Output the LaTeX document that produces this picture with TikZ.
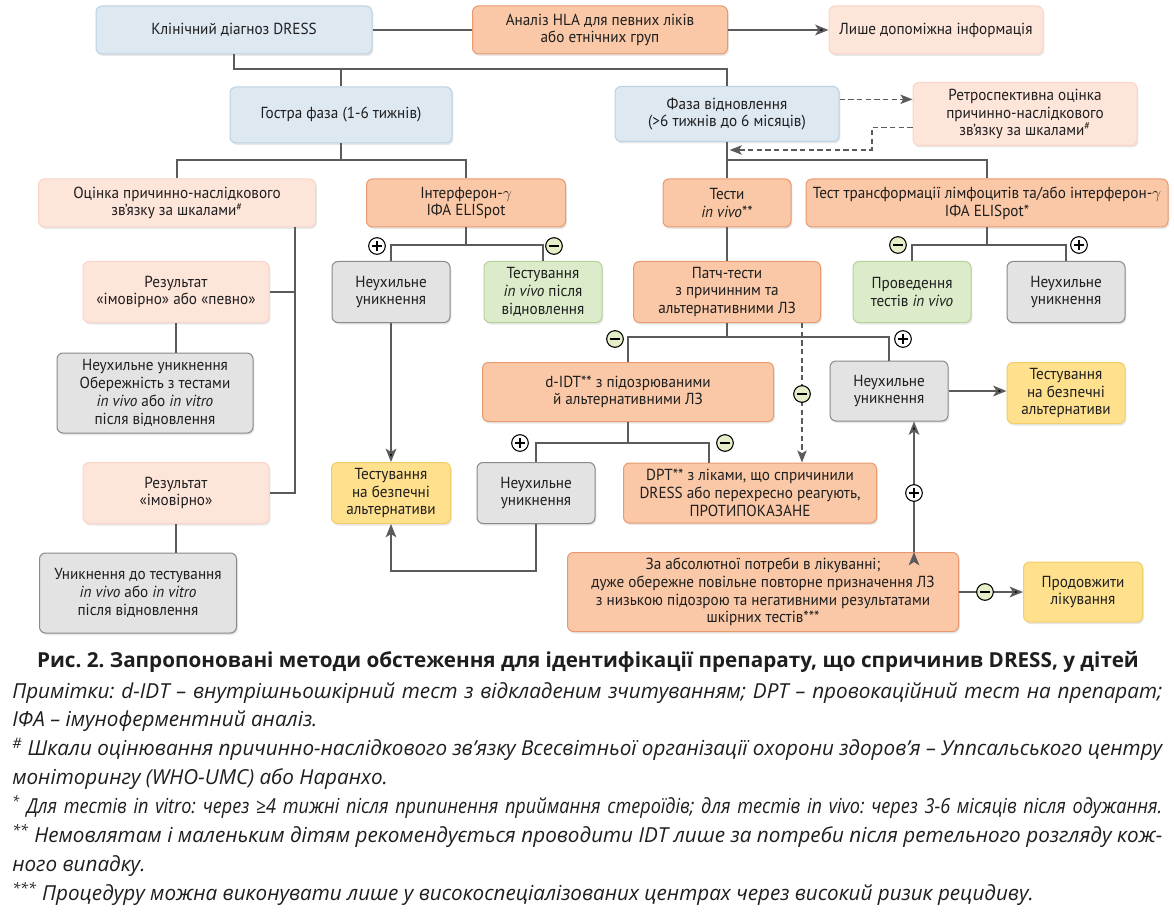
\documentclass[tikz,border=0pt]{standalone}
\usepackage{fontspec}
\setmainfont{Open Sans}
\newfontfamily\boxfont[FakeStretch=0.95]{PT Sans}
\newfontfamily\notecond[FakeStretch=0.875]{Open Sans}
\usetikzlibrary{arrows.meta,shadows}
\frenchspacing

\definecolor{lineclr}{HTML}{5B5B5B}
\definecolor{textclr}{HTML}{1E1E1E}
\definecolor{bluefill}{HTML}{DDE8F1}
\definecolor{blueedge}{HTML}{BCD1E2}
\definecolor{orangefill}{HTML}{FAC8A6}
\definecolor{orangeedge}{HTML}{E89A6E}
\definecolor{peachfill}{HTML}{FDE5DA}
\definecolor{peachedge}{HTML}{F8D5C6}
\definecolor{grayfill}{HTML}{E3E3E3}
\definecolor{grayedge}{HTML}{8A8A8A}
\definecolor{greenfill}{HTML}{DCECCB}
\definecolor{greenedge}{HTML}{B3D39B}
\definecolor{yellowfill}{HTML}{FEE08D}
\definecolor{yellowedge}{HTML}{F3CD6A}
\definecolor{minusfill}{HTML}{E4EEC9}

\tikzset{
  box/.style={draw,rounded corners=4.5pt,align=center,inner sep=2pt,line width=0.75pt,
              font=\boxfont\fontsize{12}{13.3}\selectfont,text=textclr,
              drop shadow={opacity=0.18,shadow xshift=1pt,shadow yshift=-1.5pt}},
  boxsize/.style 2 args={minimum width=#1*0.75pt,minimum height=#2*0.75pt},
  bluebox/.style={box,fill=bluefill,draw=blueedge},
  orangebox/.style={box,fill=orangefill,draw=orangeedge},
  peachbox/.style={box,fill=peachfill,draw=peachedge},
  graybox/.style={box,fill=grayfill,draw=grayedge},
  greenbox/.style={box,fill=greenfill,draw=greenedge},
  yellowbox/.style={box,fill=yellowfill,draw=yellowedge},
  signbase/.style={circle,draw=black,line width=0.8pt,minimum size=12.5pt,inner sep=0pt},
  plussign/.style={signbase,fill=white,
      path picture={\draw[line width=1.1pt]
        ([xshift=2.3pt]path picture bounding box.west) -- ([xshift=-2.3pt]path picture bounding box.east)
        ([yshift=-2.3pt]path picture bounding box.north) -- ([yshift=2.3pt]path picture bounding box.south);}},
  minussign/.style={signbase,fill=minusfill,
      path picture={\draw[line width=1.3pt]
        ([xshift=2.3pt]path picture bounding box.west) -- ([xshift=-2.3pt]path picture bounding box.east);}},
  note/.style={anchor=base west,inner sep=0pt,text=textclr,font=\fontsize{15.5}{18}\selectfont\itshape}
}

\begin{document}
\begin{tikzpicture}[x=0.75pt,y=-0.75pt,
    link/.style={draw=lineclr,line width=1.4pt},
    arr/.style={link,-{Stealth[length=10pt,width=8pt,inset=2.5pt]}},
    dashlink/.style={link,line width=1.1pt,dash pattern=on 4pt off 2.5pt},
    dasharr/.style={dashlink,-{Stealth[length=9pt,width=7pt,inset=2pt]}}]
	\fill[white] (0,0) rectangle (1174,916);
	\useasboundingbox (0,0) rectangle (1174,916);

	% first rows
	\node[bluebox,boxsize={276}{48}]	(diag)		at (234,30)	{Клінічний діагноз DRESS};
	\node[orangebox,boxsize={255}{48}]	(hla)		at (600,30)	{Аналіз HLA для певних ліків\\або етнічних груп};
	\node[peachbox,boxsize={214}{48}]	(aux)		at (936,30)	{Лише допоміжна інформація};
	\node[bluebox,boxsize={222}{56}]	(acute)		at (341,115)	{Гостра фаза (1-6 тижнів)};
	\node[bluebox,boxsize={224}{55}]	(recov)		at (727,114)	{Фаза відновлення\\(>6 тижнів до 6 місяців)};
	\node[peachbox,boxsize={224}{63}]	(retro)		at (1025,114)	{Ретроспективна оцінка\\причинно-наслідкового\\зв’язку за шкалами\textsuperscript{\#}};

	% acute phase
	\node[peachbox,boxsize={277}{48}]	(causal)	at (177,203)	{Оцінка причинно-наслідкового\\зв’язку за шкалами\textsuperscript{\#}};
	\node[orangebox,boxsize={199}{48}]	(ifn)		at (466,203)	{Інтерферон-$\gamma$\\ІФА ELISpot};
	\node[peachbox,boxsize={186}{61}]	(result1)	at (176,292)	{Результат\\«імовірно» або «певно»};
	\node[graybox,boxsize={118}{61}]	(avoid1)	at (391,292)	{Неухильне\\уникнення};
	\node[greenbox,boxsize={118}{61}]	(testrec)	at (543,292)	{Тестування\\\textit{in vivo} після\\відновлення};
	\node[graybox,boxsize={196}{80}]	(avoidcaut)	at (155,393)	{Неухильне уникнення\\Обережність з тестами\\\textit{in vivo} або \textit{in vitro}\\після відновлення};
	\node[peachbox,boxsize={186}{61}]	(result2)	at (176,493)	{Результат\\«імовірно»};
	\node[yellowbox,boxsize={119}{61}]	(safe1)		at (391,493)	{Тестування\\на безпечні\\альтернативи};
	\node[graybox,boxsize={197}{80}]	(avoidpre)	at (138,593)	{Уникнення до тестування\\\textit{in vivo} або \textit{in vitro}\\після відновлення};

	% recovery phase
	\node[orangebox,boxsize={128}{48}]	(tests)		at (727,203)	{Тести\\\textit{in vivo}**};
	\node[orangebox,boxsize={362}{48}]	(lymph)		at (987,203)	{Тест трансформації лімфоцитів та/або інтерферон-$\gamma$\\ІФА ELISpot*};
	\node[orangebox,boxsize={187}{61}]	(patch)		at (727,292)	{Патч-тести\\з причинним та\\альтернативними ЛЗ};
	\node[greenbox,boxsize={118}{61}]	(provtests)	at (912,292)	{Проведення\\тестів \textit{in vivo}};
	\node[graybox,boxsize={118}{61}]	(avoid2)	at (1066,292)	{Неухильне\\уникнення};
	\node[orangebox,boxsize={291}{59}]	(didt)		at (628,392)	{d-IDT** з підозрюваними\\й альтернативними ЛЗ};
	\node[graybox,boxsize={118}{60}]	(avoid3)	at (889,391)	{Неухильне\\уникнення};
	\node[yellowbox,boxsize={118}{61}]	(safe2)		at (1066,393)	{Тестування\\на безпечні\\альтернативи};
	\node[graybox,boxsize={118}{61}]	(avoid4)	at (536,493)	{Неухильне\\уникнення};
	\node[orangebox,boxsize={253}{60}]	(dpt)		at (750,493)	{DPT** з ліками, що спричинили\\DRESS або перехресно реагують,\\ПРОТИПОКАЗАНЕ};
	\node[orangebox,boxsize={391}{79}]	(absolute)	at (763,592)	{За абсолютної потреби в лікуванні;\\дуже обережне повільне повторне призначення ЛЗ\\з низькою підозрою та негативними результатами\\шкірних тестів***};
	\node[yellowbox,boxsize={119}{60}]	(contin)	at (1083,592)	{Продовжити\\лікування};

	% bus levels and bends
	\coordinate (bus1) at (0,69);
	\coordinate (bus2) at (0,160);
	\coordinate (bus3) at (0,245);
	\coordinate (bus4) at (0,337);
	\coordinate (bus5) at (0,443);
	\coordinate (loopy) at (0,571);
	\coordinate (retback) at (872,150);
	\coordinate (tie) at ([xshift=88.5pt]causal.south);
	\coordinate (dptin) at ([xshift=56.25pt]patch.south);
	\coordinate (dptl) at ([xshift=-31pt]dpt.north);
	\coordinate (upx) at ([xshift=18.75pt]avoid3.south);

	\path[link]	(diag)	edge	(hla);
	\path[arr]	(hla)	edge	(aux)
			(avoid1)	edge	(safe1)
			(avoid3)	edge	(avoid3 -| safe2.west)
			(absolute)	edge	(contin)
			(absolute.north -| upx)	edge	(upx);
	\draw[link] (diag.south) |- (recov.north |- bus1) -- (recov.north);
	\draw[link] (acute.north) -- (acute.north |- bus1);
	\draw[link] (acute.south) -- (acute.south |- bus2);
	\draw[link] (causal.north) |- (ifn.north |- bus2) -- (ifn.north);
	\draw[link] (recov.south) -- (tests.north);
	\draw[link] (recov.south |- bus2) -| (lymph.north);
	\draw[dasharr] ([yshift=11pt]recov.east) -- ([yshift=11pt]retro.west);
	\draw[dasharr, shorten >=2pt] ([yshift=-10pt]retro.west) -| (retback) -- (recov.south |- retback);
	\draw[link] (tie) |- (result2.east);
	\draw[link] (result1.east) -- (result1.east -| tie);
	\draw[link] (result1.south) -- (result1.south |- avoidcaut.north);
	\draw[link] (result2.south) -- (result2.south |- avoidpre.north);
	\draw[link] (ifn.south) -- (ifn.south |- bus3);
	\draw[link] (avoid1.north) |- (testrec.north |- bus3) -- (testrec.north);
	\draw[link] (lymph.south) -- (lymph.south |- bus3);
	\draw[link] (provtests.north) |- (avoid2.north |- bus3) -- (avoid2.north);
	\draw[link] (tests) -- (patch);
	\draw[link] (patch.south) -- (patch.south |- bus4);
	\draw[link] (didt.north) |- (avoid3.north |- bus4) -- (avoid3.north);
	\draw[dasharr] (dptin) -- (dptin |- dpt.north);
	\draw[link] (didt.south) -- (didt.south |- bus5);
	\draw[link] (avoid4.north) |- (dptl |- bus5) -- (dptl);
	\draw[arr] (avoid4.south) |- (safe1.south |- loopy) -- (safe1.south);

	% signs
	\node[plussign]		(p1)	at (377,246)	{};
	\node[minussign]	(m1)	at (554,246)	{};
	\node[minussign]	(m2)	at (898,245)	{};
	\node[plussign]		(p2)	at (1079,245)	{};
	\node[minussign]	(m3)	at (615,339)	{};
	\node[plussign]		(p3)	at (903,339)	{};
	\node[minussign]	(m4)	at (dptin |- 0,394)	{};
	\node[plussign]		(p4)	at (520,443)	{};
	\node[minussign]	(m5)	at (725,443)	{};
	\node[plussign]		(p5)	at (upx |- 0,493)	{};
	\node[minussign]	(m6)	at (985,592)	{};

	% caption
	\node[anchor=base,inner sep=0pt,text=textclr,font=\fontsize{15.5}{18}\selectfont\bfseries] (title) at (588,667)
		{Рис. 2. Запропоновані методи обстеження для ідентифікації препарату, що спричинив DRESS, у дітей};
	\node[note] (n1) at (12,698) {\makebox[862.5pt][s]{Примітки: d-IDT – внутрішньошкірний тест з відкладеним зчитуванням; DPT – провокаційний тест на препарат;}};
	\node[note] (n2) at (12,726) {ІФА – імуноферментний аналіз.};
	\node[note] (n3) at (12,755) {\makebox[862.5pt][s]{\textsuperscript{\#} Шкали оцінювання причинно-наслідкового зв’язку Всесвітньої організації охорони здоров’я – Уппсальського центру}};
	\node[note] (n4) at (12,784) {моніторингу (WHO-UMC) або Наранхо.};
	\node[note] (n5) at (12,813) {\notecond\makebox[862.5pt][s]{\textsuperscript{*} Для тестів in vitro: через ≥4 тижні після припинення приймання стероїдів; для тестів in vivo: через 3-6 місяців після одужання.}};
	\node[note] (n6) at (12,842) {\makebox[862.5pt][s]{\textsuperscript{**} Немовлятам і маленьким дітям рекомендується проводити IDT лише за потреби після ретельного розгляду кож-}};
	\node[note] (n7) at (12,871) {ного випадку.};
	\node[note] (n8) at (12,900) {\textsuperscript{***} Процедуру можна виконувати лише у високоспеціалізованих центрах через високий ризик рецидиву.};
\end{tikzpicture}
\end{document}
